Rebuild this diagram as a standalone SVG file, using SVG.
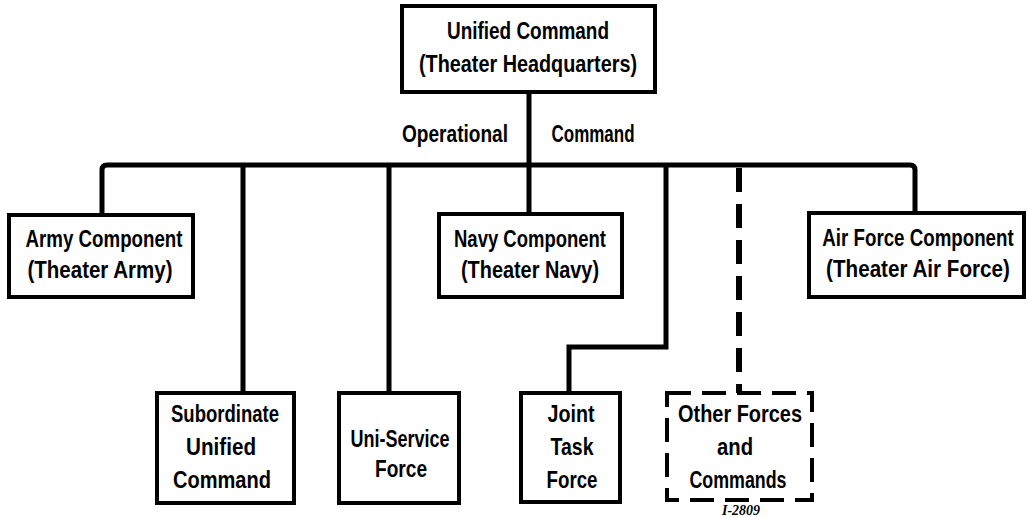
<svg xmlns="http://www.w3.org/2000/svg" width="1028" height="517" viewBox="0 0 1028 517">
<style>
.box{fill:#fff;stroke:#000;stroke-width:4}
.dbox{fill:#fff;stroke:#000;stroke-width:4;stroke-dasharray:24 11}
.t{font-family:"Liberation Sans",Arial,sans-serif;font-weight:bold;font-size:24px;fill:#000;text-anchor:middle}
.c{fill:none;stroke:#000;stroke-width:5}
.d{fill:none;stroke:#000;stroke-width:6;stroke-dasharray:24 12}
.ref{font-family:"Liberation Serif",serif;font-style:italic;font-weight:bold;font-size:14px;fill:#000;text-anchor:middle}
</style>
<rect width="1028" height="517" fill="#fff"/>
<g id="connectors">
<path class="c" d="M102,215 V170 Q102,165 107,165 H910 Q915,165 915,170 V213"/>
<path class="c" d="M529,92 V214"/>
<path class="c" d="M243,165 V393"/>
<path class="c" d="M389,165 V393"/>
<path class="c" d="M666,165 V347 H569 V393"/>
<path class="d" d="M739,168 V393"/>
<text class="t" x="455" y="142" textLength="106" lengthAdjust="spacingAndGlyphs">Operational</text>
<text class="t" x="593" y="142" textLength="83" lengthAdjust="spacingAndGlyphs">Command</text>
</g>
<g id="unified">
<rect class="box" x="402" y="6" width="253" height="86"/>
<text class="t" x="528" y="39" textLength="162" lengthAdjust="spacingAndGlyphs">Unified Command</text>
<text class="t" x="528" y="72" textLength="218" lengthAdjust="spacingAndGlyphs">(Theater Headquarters)</text>
</g>
<g id="army">
<rect class="box" x="9" y="215" width="184" height="82"/>
<text class="t" x="104" y="247" textLength="157" lengthAdjust="spacingAndGlyphs">Army Component</text>
<text class="t" x="100" y="278" textLength="145" lengthAdjust="spacingAndGlyphs">(Theater Army)</text>
</g>
<g id="navy">
<rect class="box" x="439" y="214" width="183" height="83"/>
<text class="t" x="530" y="247" textLength="152" lengthAdjust="spacingAndGlyphs">Navy Component</text>
<text class="t" x="530" y="278" textLength="138" lengthAdjust="spacingAndGlyphs">(Theater Navy)</text>
</g>
<g id="airforce">
<rect class="box" x="809" y="213" width="215" height="84"/>
<text class="t" transform="translate(918,246) scale(0.78,1)">Air Force Component</text>
<text class="t" transform="translate(918,277) scale(0.86,1)">(Theater Air Force)</text>
</g>
<g id="subordinate">
<rect class="box" x="157" y="393" width="137" height="110"/>
<text class="t" x="225" y="422" textLength="108" lengthAdjust="spacingAndGlyphs">Subordinate</text>
<text class="t" x="221" y="455" textLength="70" lengthAdjust="spacingAndGlyphs">Unified</text>
<text class="t" x="222" y="488" textLength="98" lengthAdjust="spacingAndGlyphs">Command</text>
</g>
<g id="uniservice">
<rect class="box" x="339" y="393" width="120" height="110"/>
<text class="t" x="400" y="447" textLength="99" lengthAdjust="spacingAndGlyphs">Uni-Service</text>
<text class="t" x="401" y="477" textLength="52" lengthAdjust="spacingAndGlyphs">Force</text>
</g>
<g id="joint">
<rect class="box" x="521" y="393" width="99" height="109"/>
<text class="t" x="571" y="422" textLength="47" lengthAdjust="spacingAndGlyphs">Joint</text>
<text class="t" x="572" y="455" textLength="43" lengthAdjust="spacingAndGlyphs">Task</text>
<text class="t" x="572" y="488" textLength="51" lengthAdjust="spacingAndGlyphs">Force</text>
</g>
<g id="other">
<rect class="dbox" x="667" y="393" width="145" height="107"/>
<text class="t" x="740" y="422" textLength="124" lengthAdjust="spacingAndGlyphs">Other Forces</text>
<text class="t" x="735" y="455" textLength="36" lengthAdjust="spacingAndGlyphs">and</text>
<text class="t" x="738" y="488" textLength="97" lengthAdjust="spacingAndGlyphs">Commands</text>
</g>
<text class="ref" x="741" y="515">I-2809</text>
</svg>
